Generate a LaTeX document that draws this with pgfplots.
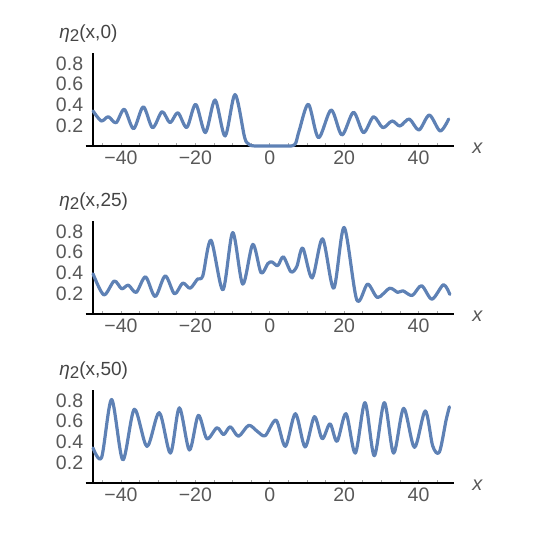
\documentclass[border=0pt]{standalone}
\usepackage{fontspec}
\setmainfont{Liberation Sans}
\usepackage{pgfplots}
\pgfplotsset{compat=1.18}
\definecolor{curve}{RGB}{94,129,181}
\definecolor{labelgray}{RGB}{88,88,88}
\definecolor{titlegray}{RGB}{68,68,68}

\pgfplotsset{
  etapanel/.style={
    scale only axis, width=368.3pt, height=92.7pt,
    xmin=-49.5, xmax=49.5, ymin=0, ymax=0.9,
    axis x line*=bottom, axis y line*=left,
    x axis line style={black, line width=1.6pt},
    y axis line style={draw=none},
    xtick={-40,-20,0,20,40},
    xticklabels={−40,−20,0,20,40},
    minor xtick={-45,-35,-30,-25,-15,-10,-5,5,10,15,25,30,35,45},
    ytick={0.2,0.4,0.6,0.8},
    yticklabels={0.2,0.4,0.6,0.8},
    xtick align=inside,
    major tick length=3pt, minor tick length=2.5pt,
    x tick style={gray!70, line width=0.6pt},
    y tick style={draw=none},
    xticklabel style={anchor=center, inner sep=0pt, yshift=-11.5pt,
      font=\fontsize{19.5}{21}\selectfont, text=labelgray},
    yticklabel style={anchor=east, inner sep=0pt, xshift=-2.3pt,
      font=\fontsize{19.5}{21}\selectfont, text=labelgray},
    clip=false,
  },
  etacurve/.style={curve, line width=3.2pt, smooth, tension=0.5, line join=round, line cap=round},
}

\newcommand{\etatitle}[1]{\node[anchor=base west, inner sep=0pt, text=titlegray,
  font=\fontsize{19}{21}\selectfont] at (axis cs:-56.6,1.046)
  {\textit{η}\raisebox{-0.3ex}{\fontsize{17}{17}\selectfont 2}(x,#1)};}
\newcommand{\xname}{\node[anchor=center, inner sep=0pt, text=labelgray,
  font=\fontsize{20}{21}\selectfont] at (axis cs:55.9,-0.02) {\textit{x}};}
\newcommand{\yline}{\draw[black, line width=1.8pt] (axis cs:-47.5,0) -- (axis cs:-47.5,0.9);}

\begin{document}
\begin{tikzpicture}
\path[use as bounding box] (0,0) rectangle (540pt,532pt);

% eta_2(x,0)
\begin{axis}[etapanel, at={(85.6pt,386pt)}, anchor=south west]
\yline
\addplot[etacurve] coordinates {
  (-47.5,0.34) (-45.3,0.243) (-43.4,0.284) (-41.3,0.226) (-39.1,0.356)
  (-36.6,0.168) (-34.0,0.38) (-31.5,0.178) (-28.95,0.333) (-26.8,0.226)
  (-24.7,0.323) (-22.3,0.18) (-19.9,0.405) (-17.3,0.13) (-14.7,0.447)
  (-12.0,0.097) (-9.33,0.50) (-6.8,0.09) (-5.9,0.026) (-5.0,0.004)
  (-4.0,0) (0,0) (5.0,0) (6.2,0.004) (7.0,0.03) (7.96,0.155)
  (10.4,0.405) (13.1,0.08) (16.5,0.35) (19.4,0.107) (22.5,0.327)
  (25.2,0.13) (27.9,0.284) (30.4,0.178) (32.9,0.243) (35.0,0.194)
  (37.5,0.262) (40.1,0.155) (42.9,0.30) (45.8,0.146) (48.1,0.262)
};
\etatitle{0}
\xname
\end{axis}

% eta_2(x,25)
\begin{axis}[etapanel, at={(85.6pt,218pt)}, anchor=south west]
\yline
\addplot[etacurve] coordinates {
  (-47.5,0.39) (-44.6,0.186) (-41.8,0.32) (-39.8,0.245) (-38.0,0.28)
  (-35.9,0.21) (-33.4,0.36) (-30.8,0.17) (-28.1,0.37) (-25.6,0.196)
  (-23.4,0.30) (-21.4,0.25) (-19.4,0.34) (-18.0,0.37) (-15.8,0.716)
  (-12.6,0.235) (-9.95,0.79) (-7.26,0.29) (-4.57,0.676) (-2.34,0.40)
  (-0.5,0.49) (0.6,0.505) (2.15,0.47) (3.66,0.555) (5.7,0.41)
  (7.26,0.46) (8.87,0.64) (11.4,0.35) (14.2,0.73) (17.2,0.25)
  (20.0,0.84) (23.4,0.137) (26.3,0.29) (29.0,0.16) (32.2,0.25)
  (34.4,0.21) (35.8,0.225) (38.3,0.18) (40.8,0.275) (43.6,0.144)
  (46.7,0.284) (48.4,0.19)
};
\etatitle{25}
\xname
\end{axis}

% eta_2(x,50)
\begin{axis}[etapanel, at={(85.6pt,49pt)}, anchor=south west]
\yline
\addplot[etacurve] coordinates {
  (-47.5,0.34) (-45.2,0.248) (-42.5,0.81) (-39.5,0.225) (-36.4,0.716)
  (-33.0,0.355) (-29.7,0.683) (-26.7,0.29) (-24.3,0.73) (-21.6,0.32)
  (-19.2,0.657) (-16.9,0.43) (-14.2,0.536) (-12.4,0.47) (-10.6,0.546)
  (-8.4,0.454) (-5.65,0.56) (-3.2,0.497) (-1.2,0.46) (1.7,0.61)
  (4.2,0.356) (6.9,0.673) (9.5,0.35) (12.0,0.644) (14.1,0.43)
  (16.2,0.575) (18.1,0.405) (20.5,0.673) (23.0,0.29) (25.6,0.78)
  (28.1,0.265) (30.8,0.78) (33.3,0.29) (36.0,0.725) (38.9,0.346)
  (41.8,0.70) (43.8,0.36) (45.6,0.30) (47.4,0.61) (48.3,0.74)
};
\etatitle{50}
\xname
\end{axis}
\end{tikzpicture}
\end{document}
